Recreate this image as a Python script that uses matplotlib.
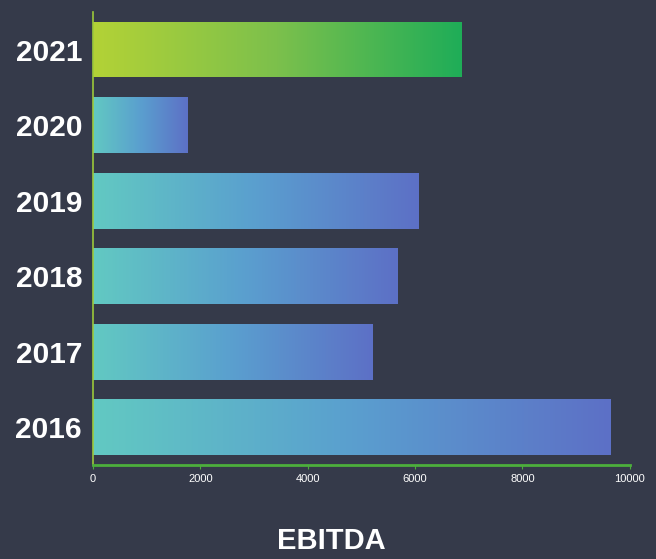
import matplotlib.pyplot as plt
import numpy as np
from matplotlib.colors import LinearSegmentedColormap

years = ['2016', '2017', '2018', '2019', '2020', '2021']
ebitda = [9650, 5200, 5680, 6070, 1770, 6870]
xticks = [0, 2000, 4000, 6000, 8000, 10000]

bg = '#353a4a'
blue_cmap = LinearSegmentedColormap.from_list('bl', ['#62c9c2', '#5a9fcf', '#5d70c6'])
green_cmap = LinearSegmentedColormap.from_list('gr', ['#b3d236', '#7cc04c', '#1fad58'])

fig = plt.figure(figsize=(6.56, 5.59), dpi=100, facecolor=bg)
ax = fig.add_axes([0.142, 0.168, 0.818, 0.811], facecolor=bg)

h = 0.74
bars = ax.barh(range(len(years)), ebitda, height=h, color='none', edgecolor='none')
grad = np.linspace(0, 1, 256).reshape(1, -1)
for i, (b, v) in enumerate(zip(bars, ebitda)):
    cmap = green_cmap if years[i] == '2021' else blue_cmap
    im = ax.imshow(grad, cmap=cmap, aspect='auto', interpolation='bicubic',
                   extent=(0, v, i - h / 2, i + h / 2), zorder=2)
    im.set_clip_path(b)

ax.set_xlim(0, 10000)
ax.set_ylim(-0.5, len(years) - 0.5)
ax.set_xticks(xticks)
ax.set_xticklabels([str(t) for t in xticks], color='white', fontsize=8,
                   family='Liberation Sans')
ax.set_yticks(range(len(years)))
ax.set_yticklabels(years, color='white', fontsize=21.5, fontweight='bold',
                   family='Liberation Sans')
ax.tick_params(axis='y', length=0, pad=8)
ax.tick_params(axis='x', colors='#4caf3c', length=3, labelcolor='white')

for s in ['top', 'right']:
    ax.spines[s].set_visible(False)
ax.spines['bottom'].set_color('#4caf3c')
ax.spines['bottom'].set_linewidth(2)
ax.spines['left'].set_color('#9cc83a')
ax.spines['left'].set_linewidth(1.2)

fig.text(0.505, 0.008, 'EBITDA', color='white', fontsize=21, fontweight='bold',
         family='Liberation Sans', ha='center', va='bottom')

fig.savefig('out.png', dpi=100, facecolor=bg)
